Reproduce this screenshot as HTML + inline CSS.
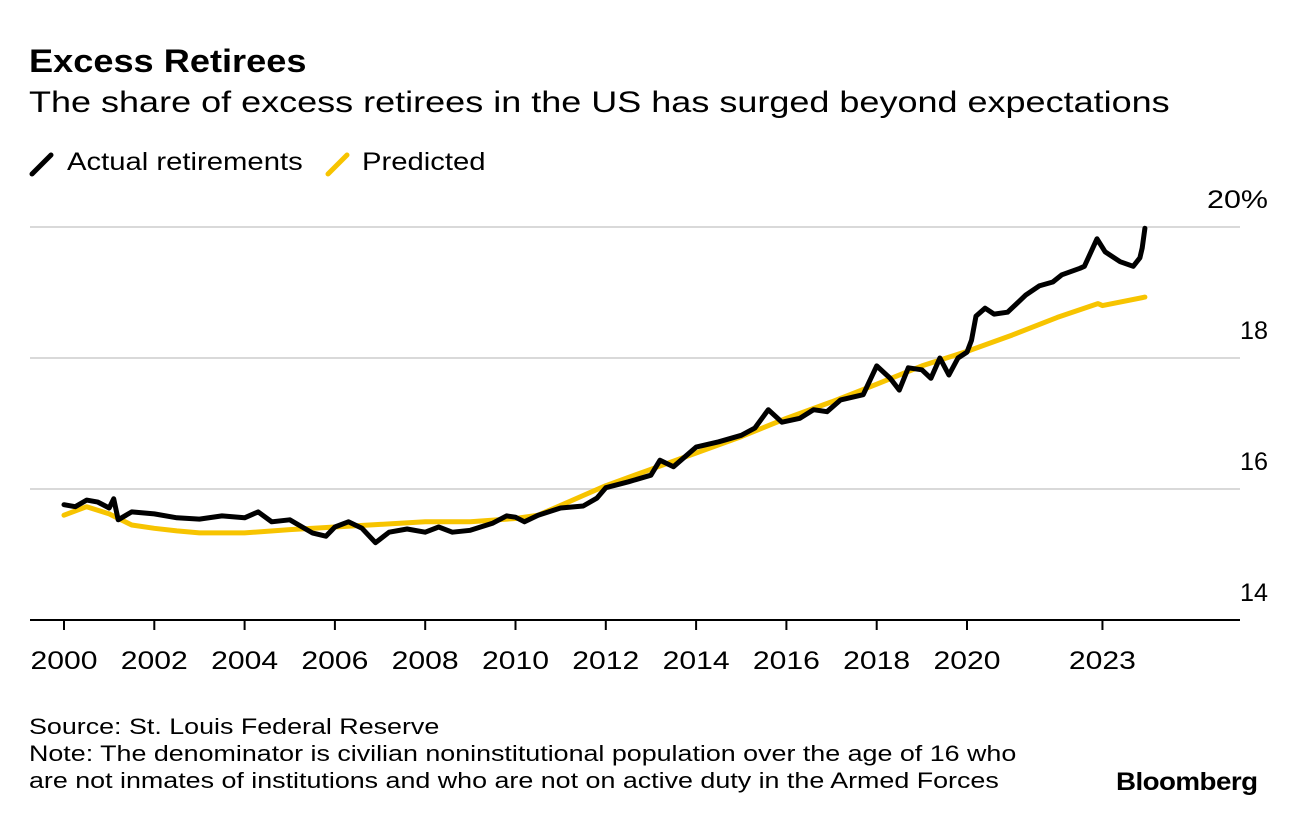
<!DOCTYPE html>
<html><head><meta charset="utf-8"><style>
body{margin:0;background:#fff;font-family:"Liberation Sans",sans-serif;color:#000;}
#wrap{position:relative;width:1296px;height:828px;overflow:hidden;}
.t{position:absolute;white-space:nowrap;transform-origin:0 0;}
</style></head><body>
<div id="wrap">
<div class="t" style="left:29px;top:43px;font-size:32px;font-weight:bold;transform:scaleX(1.13);">Excess Retirees</div>
<div class="t" style="left:29px;top:86px;font-size:30px;transform:scaleX(1.2);">The share of excess retirees in the US has surged beyond expectations</div>
<svg width="26" height="26" style="position:absolute;left:29px;top:151px"><line x1="3" y1="23" x2="22" y2="4" stroke="#000" stroke-width="5" stroke-linecap="round"/></svg>
<div class="t" style="left:67px;top:148px;font-size:25px;transform:scaleX(1.17);">Actual retirements</div>
<svg width="26" height="26" style="position:absolute;left:325px;top:151px"><line x1="3" y1="23" x2="22" y2="4" stroke="#f7c400" stroke-width="5" stroke-linecap="round"/></svg>
<div class="t" style="left:362px;top:148px;font-size:25px;transform:scaleX(1.17);">Predicted</div>
<svg id="plot" width="1296" height="828" style="position:absolute;left:0;top:0"></svg>
<div class="t" style="left:29px;top:713px;font-size:22px;line-height:27px;transform:scaleX(1.22);">Source: St. Louis Federal Reserve<br>Note: The denominator is civilian noninstitutional population over the age of 16 who<br>are not inmates of institutions and who are not on active duty in the Armed Forces</div>
<div class="t" style="left:1116px;top:768px;font-size:25px;font-weight:bold;letter-spacing:-0.5px;transform:scaleX(1.11);">Bloomberg</div>
</div>
<script>
const actualYears=[2000,2000.25,2000.5,2000.75,2001,2001.1,2001.2,2001.5,2002,2002.5,2003,2003.5,2004,2004.3,2004.6,2005,2005.5,2005.8,2006,2006.3,2006.6,2006.9,2007.2,2007.6,2008,2008.3,2008.6,2009,2009.5,2009.8,2010,2010.2,2010.5,2011,2011.5,2011.8,2012,2012.5,2013,2013.2,2013.5,2014,2014.5,2015,2015.3,2015.6,2015.9,2016.3,2016.6,2016.9,2017.2,2017.7,2018,2018.3,2018.5,2018.7,2019,2019.2,2019.4,2019.6,2019.8,2020,2020.1,2020.2,2020.4,2020.6,2020.9,2021.3,2021.6,2021.9,2022.1,2022.5,2022.6,2022.88,2023.06,2023.39,2023.68,2023.83,2023.88,2023.94];
const actualValues=[15.76,15.73,15.83,15.8,15.71,15.85,15.53,15.65,15.62,15.56,15.54,15.59,15.56,15.65,15.5,15.53,15.33,15.28,15.42,15.5,15.4,15.18,15.34,15.39,15.34,15.42,15.34,15.37,15.48,15.59,15.57,15.5,15.6,15.71,15.74,15.86,16.02,16.11,16.21,16.44,16.34,16.64,16.72,16.82,16.93,17.21,17.02,17.08,17.21,17.18,17.36,17.44,17.88,17.69,17.51,17.85,17.82,17.69,18.0,17.74,18.0,18.09,18.27,18.64,18.76,18.67,18.7,18.96,19.1,19.16,19.27,19.37,19.4,19.82,19.62,19.47,19.4,19.53,19.68,19.98];
const predYears=[2000,2000.5,2001,2001.5,2002,2002.5,2003,2004,2005,2006,2007,2008,2009,2010,2010.5,2011,2011.5,2012,2013,2014,2015,2016,2017,2018,2019,2020,2021,2022,2022.9,2023,2023.94];
const predValues=[15.6,15.73,15.62,15.45,15.4,15.36,15.33,15.33,15.38,15.42,15.46,15.5,15.5,15.55,15.6,15.75,15.9,16.05,16.3,16.55,16.8,17.08,17.33,17.6,17.88,18.1,18.35,18.62,18.83,18.8,18.93];
const yTicks=[14,16,18,20];
const yTickLabels=["14","16","18","20%"];
const xTicks=[2000,2002,2004,2006,2008,2010,2012,2014,2016,2018,2020,2023];
const xTickLabels=["2000","2002","2004","2006","2008","2010","2012","2014","2016","2018","2020","2023"];
const NS="http://www.w3.org/2000/svg";
const svg=document.getElementById('plot');
const X=y=>64+(y-2000)*45.15;
const Y=v=>620-(v-14)*65.5;
function mk(t,a){const e=document.createElementNS(NS,t);for(const k in a)e.setAttribute(k,a[k]);svg.appendChild(e);return e;}
yTicks.forEach((v,i)=>{
  if(v!==14){const g=mk('line',{x1:30,x2:1240,y1:Y(v),y2:Y(v),stroke:'#d9d9d9','stroke-width':2});
  
  }
  const lab=yTickLabels[i];
  const t=mk('text',{x:1268,y:Y(v)-19,'text-anchor':'end','font-size':25,'font-family':'Liberation Sans, sans-serif',textLength:lab.length===3?61:28,lengthAdjust:'spacingAndGlyphs'});
  t.textContent=lab;
  
  
});
const ax=mk('line',{x1:30,x2:1240,y1:620,y2:620,stroke:'#000','stroke-width':2});


xTicks.forEach((yr,i)=>{
  const tk=mk('line',{x1:X(yr),x2:X(yr),y1:620,y2:630,stroke:'#000','stroke-width':2});
  
  
  const t=mk('text',{x:X(yr),y:669,'text-anchor':'middle','font-size':25,'font-family':'Liberation Sans, sans-serif',textLength:67,lengthAdjust:'spacingAndGlyphs'});
  t.textContent=xTickLabels[i];
  
  
});
function line(xs,vs){return xs.map((x,i)=>(i?'L':'M')+X(x).toFixed(1)+' '+Y(vs[i]).toFixed(1)).join(' ');}
const p1=mk('path',{d:line(predYears,predValues),fill:'none',stroke:'#f7c400','stroke-width':5,'stroke-linejoin':'round','stroke-linecap':'round'});


const p2=mk('path',{d:line(actualYears,actualValues),fill:'none',stroke:'#000','stroke-width':5,'stroke-linejoin':'round','stroke-linecap':'round'});


</script>
</body></html>
